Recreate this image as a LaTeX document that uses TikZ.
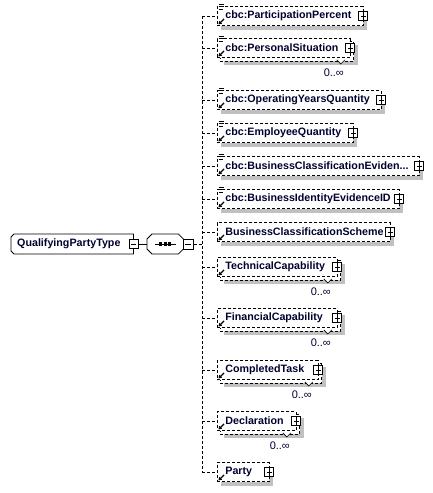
\documentclass[tikz,border=0pt]{standalone}
\usepackage{fontspec}
\setmainfont{Liberation Sans}
\usetikzlibrary{calc,shadows,backgrounds,arrows.meta}
\definecolor{shadowgray}{RGB}{192,192,192}
\definecolor{txt}{RGB}{0,0,48}

\newcommand\cbox[5]{% name, y, width, text, extra style
  \node[elembase,#5] (#1) at (217,#2) {\makebox[\dimexpr #3pt-16pt\relax][l]{#4}};}
\newcommand\linesicon[1]{%
  \draw[line width=0.7pt] ($(#1.north west)+(1.5,-1.5)$) -- ++(5,0)
    ($(#1.north west)+(1.5,0.7)$) -- ++(5,0)
    ($(#1.north west)+(1.5,2.9)$) -- ++(4,0);}
\newcommand\refarr[1]{%
  \draw[line width=1.2pt,-{Triangle[length=3pt,width=3.8pt]}] ($(#1.south west)+(7,-7)$) -- ($(#1.south west)+(1.5,-1.5)$);}
\newcommand\plusbox[1]{\node[pmbox,plussign] (#1p) at ($(#1.east)+(-0.5,0)$) {};}
\newcommand\multiframe[1]{%
  \begin{scope}[on background layer]
    \path[fill=white,draw,line width=0.8pt,dash pattern=on 3pt off 2pt,shadowed]
      ($(#1.north west)+(3,3)$) rectangle ($(#1.south east)+(3,3)$);
  \end{scope}
  \draw[fill=white,line width=0.6pt] ($(#1.south east)+(-14,2)$) -- ++(4,4) -- ++(4,-4);
  \node[occ] (#1o) at ($(#1.south east)+(-17,14.5)$) {0..∞};}

\begin{document}
\begin{tikzpicture}[x=1pt,y=-1pt,
  every node/.style={text=txt},
  conn/.style={line width=0.8pt,dash pattern=on 3pt off 2pt},
  shadowed/.style={drop shadow={shadow xshift=4pt,shadow yshift=-4pt,opacity=1,fill=shadowgray}},
  elembase/.style={draw,line width=0.8pt,dash pattern=on 3pt off 2pt,fill=white,anchor=west,
    minimum height=19pt,inner xsep=8pt,inner ysep=0pt,font=\bfseries\fontsize{10.7}{12}\selectfont},
  single/.style={shadowed},
  multi/.style={},
  occ/.style={font=\fontsize{11}{13}\selectfont,inner sep=0pt},
  pmbox/.style={draw,solid,line width=0.8pt,fill=white,minimum size=9pt,inner sep=0pt},
  plussign/.style={path picture={\draw[line width=0.8pt] ($(path picture bounding box.west)+(2,0)$) -- ($(path picture bounding box.east)+(-2,0)$)
     ($(path picture bounding box.north)+(0,-2)$) -- ($(path picture bounding box.south)+(0,2)$);}},
  minussign/.style={path picture={\draw[line width=0.8pt] ($(path picture bounding box.west)+(2,0)$) -- ($(path picture bounding box.east)+(-2,0)$);}}
]
\useasboundingbox (0,0) rectangle (433,493);

% root element
\node[anchor=west,minimum width=122pt,minimum height=19.5pt,inner xsep=6pt,inner ysep=0pt,
  font=\bfseries\fontsize{10.7}{12}\selectfont] (root) at (11,244) {\makebox[110pt][l]{QualifyingPartyType}};
\begin{scope}[on background layer]
  \fill[shadowgray,shift={(4,4)}] ($(root.north west)+(3,0)$) -- (root.north east) -- (root.south east)
    -- ($(root.south west)+(3,0)$) -- ($(root.south west)+(0,-3)$) -- ($(root.north west)+(0,3)$) -- cycle;
  \draw[fill=white,line width=0.8pt] ($(root.north west)+(3,0)$) -- (root.north east) -- (root.south east)
    -- ($(root.south west)+(3,0)$) -- ($(root.south west)+(0,-3)$) -- ($(root.north west)+(0,3)$) -- cycle;
\end{scope}
\node[pmbox,minussign] (rootm) at (root.east) {};

% sequence compositor
\node[anchor=west,minimum width=36pt,minimum height=19.5pt,inner sep=0pt] (seq) at (147,244) {};
\begin{scope}[on background layer]
  \fill[shadowgray,shift={(4,4)}] ($(seq.north west)+(5,0)$) -- ($(seq.north east)+(-5,0)$) -- ($(seq.north east)+(0,5)$)
    -- ($(seq.south east)+(0,-5)$) -- ($(seq.south east)+(-5,0)$) -- ($(seq.south west)+(5,0)$)
    -- ($(seq.south west)+(0,-5)$) -- ($(seq.north west)+(0,5)$) -- cycle;
  \draw[fill=white,line width=0.8pt] ($(seq.north west)+(5,0)$) -- ($(seq.north east)+(-5,0)$) -- ($(seq.north east)+(0,5)$)
    -- ($(seq.south east)+(0,-5)$) -- ($(seq.south east)+(-5,0)$) -- ($(seq.south west)+(5,0)$)
    -- ($(seq.south west)+(0,-5)$) -- ($(seq.north west)+(0,5)$) -- cycle;
\end{scope}
\draw[line width=0.8pt] ($(seq.center)+(-10,0)$) -- ($(seq.center)+(11,0)$);
\foreach \dx in {-4.5,0,4.5} \fill ($(seq.center)+(\dx-1.7,-1.7)$) rectangle ++(3.4,3.4);
\node[pmbox,minussign,minimum size=10pt] (seqm) at ($(seq.east)+(5,0)$) {};
\draw[line width=0.8pt] (rootm.east) -- (seq.west);

\coordinate (trunk) at (202,244);
\draw[conn] (seqm.east) -- (trunk);

% children
\cbox{c1}{16}{146}{cbc:ParticipationPercent}{single}
\cbox{c2}{48}{133}{cbc:PersonalSituation}{multi}
\cbox{c3}{100}{164}{cbc:OperatingYearsQuantity}{single}
\cbox{c4}{133}{136}{cbc:EmployeeQuantity}{single}
\cbox{c5}{166}{202}{cbc:BusinessClassificationEviden...}{single}
\cbox{c6}{199}{182}{cbc:BusinessIdentityEvidenceID}{single}
\cbox{c7}{232}{173}{BusinessClassificationScheme}{single}
\cbox{c8}{267}{120}{TechnicalCapability}{multi}
\cbox{c9}{318}{120}{FinancialCapability}{multi}
\cbox{c10}{370}{101}{CompletedTask}{multi}
\cbox{c11}{421}{79}{Declaration}{multi}
\cbox{c12}{472}{52}{Party}{single}

\foreach \c in {c2,c8,c9,c10,c11} {\multiframe{\c}}
\foreach \c in {c1,c2,c3,c4,c5,c6} {\linesicon{\c}}
\foreach \c in {c1,c2,c3,c4,c5,c6,c7,c8,c9,c10,c11,c12} {
  \refarr{\c}
  \plusbox{\c}
  \draw[conn] (trunk |- \c.west) -- (\c.west);
}
\draw[conn] (trunk |- c1.west) -- (trunk |- c12.west);
\end{tikzpicture}
\end{document}
